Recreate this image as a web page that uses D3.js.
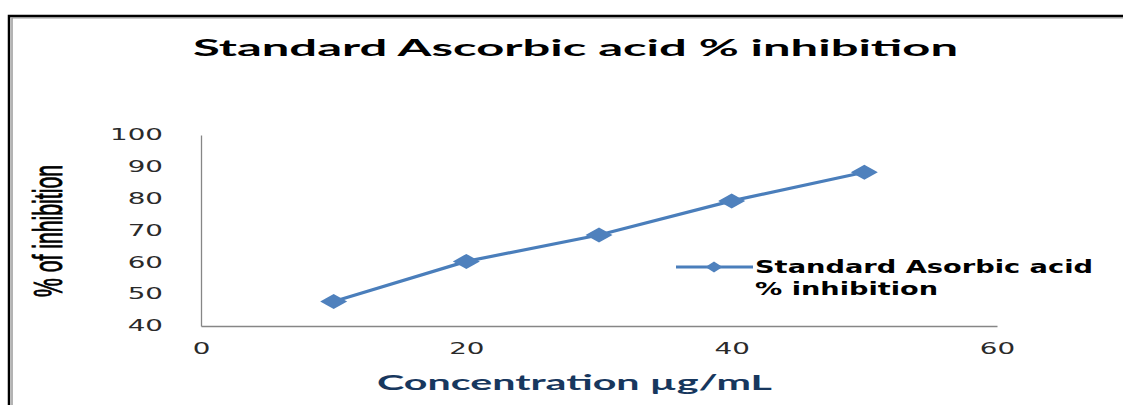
<!DOCTYPE html>
<html>
<head>
<meta charset="utf-8">
<script src="https://cdn.jsdelivr.net/npm/d3@7"></script>
<style>
  html, body { margin: 0; padding: 0; background: #fff; }
  svg { display: block; }
</style>
</head>
<body>
<script>
// Ascorbic acid standard: concentration (µg/mL) vs % inhibition
const concentrations = [10, 20, 30, 40, 50];
const inhibition = [47.7, 60.3, 68.6, 79.3, 88.3];
const xTicks = [0, 20, 40, 60];
const yTicks = [40, 50, 60, 70, 80, 90, 100];
const chartTitle = "Standard Ascorbic acid % inhibition";
const xTitle = "Concentration  µg/mL";
const yTitle = "% of inhibition";
const legendLines = ["Standard Asorbic acid", "% inhibition"];

const W = 1123, H = 405;
const plot = { left: 201, right: 997, top: 135, bottom: 326 };
const seriesColor = "#4A7EBB";
const markerColor = "#4F81BD";

const svg = d3.select("body").append("svg")
  .attr("width", W).attr("height", H);

// outer frame: black edge with a grey inner rule, open at right and bottom
svg.append("path")
  .attr("d", `M${W},16 H9 V${H}`)
  .attr("fill", "none").attr("stroke", "#000").attr("stroke-width", 2.5);
svg.append("path")
  .attr("d", `M${W},17.8 H12 V${H}`)
  .attr("fill", "none").attr("stroke", "#9a9a9a").attr("stroke-width", 1.5);

const x = d3.scaleLinear().domain([0, 60]).range([plot.left, plot.right]);
const y = d3.scaleLinear().domain([40, 100]).range([plot.bottom, plot.top]);

// widen text horizontally by factor k
function stretch(sel, k) {
  sel.each(function () {
    const w = this.getComputedTextLength();
    d3.select(this).attr("textLength", w * k).attr("lengthAdjust", "spacingAndGlyphs");
  });
}

const tickFont = "'DejaVu Sans', Verdana, sans-serif";

// y axis
const gy = svg.append("g")
  .attr("transform", `translate(${plot.left},0)`)
  .call(d3.axisLeft(y).tickValues(yTicks).tickSize(0).tickPadding(38).tickFormat(d3.format("d")));
gy.select(".domain").attr("stroke", "#868686").attr("stroke-width", 1.3);
gy.selectAll("text")
  .attr("font-family", tickFont).attr("font-size", 15).attr("fill", "#2a2a2a");
stretch(gy.selectAll("text"), 1.85);

// x axis
const gx = svg.append("g")
  .attr("transform", `translate(0,${plot.bottom})`)
  .call(d3.axisBottom(x).tickValues(xTicks).tickSize(0).tickPadding(17).tickFormat(d3.format("d")));
gx.select(".domain").attr("stroke", "#868686").attr("stroke-width", 1.3);
gx.selectAll("text")
  .attr("font-family", tickFont).attr("font-size", 15).attr("fill", "#2a2a2a");
stretch(gx.selectAll("text"), 1.85);

// wide diamond marker
function diamond(w, h) {
  return { draw(ctx) {
    ctx.moveTo(-w / 2, 0); ctx.lineTo(0, -h / 2); ctx.lineTo(w / 2, 0); ctx.lineTo(0, h / 2); ctx.closePath();
  } };
}

const points = concentrations.map((c, i) => [c, inhibition[i]]);

svg.append("path")
  .datum(points)
  .attr("fill", "none")
  .attr("stroke", seriesColor)
  .attr("stroke-width", 3.2)
  .attr("stroke-linejoin", "round")
  .attr("d", d3.line().x(d => x(d[0])).y(d => y(d[1])));

svg.append("g").selectAll("path")
  .data(points)
  .join("path")
  .attr("transform", d => `translate(${x(d[0])},${y(d[1])})`)
  .attr("d", d3.symbol().type(diamond(27, 15))())
  .attr("fill", markerColor);

// chart title
svg.append("text")
  .attr("x", 193).attr("y", 56)
  .attr("font-family", "Lato, 'Open Sans', sans-serif")
  .attr("font-weight", 700).attr("font-size", 22).attr("fill", "#000")
  .attr("textLength", 765).attr("lengthAdjust", "spacingAndGlyphs")
  .text(chartTitle);

// x axis title
svg.append("text")
  .attr("x", 377).attr("y", 390)
  .attr("font-family", "Lato, 'Open Sans', sans-serif")
  .attr("font-weight", 700).attr("font-size", 20).attr("fill", "#17375E")
  .attr("textLength", 395).attr("lengthAdjust", "spacingAndGlyphs")
  .text(xTitle);

// y axis title
svg.append("text")
  .attr("transform", "translate(62,231) rotate(-90)")
  .attr("text-anchor", "middle")
  .attr("font-family", "'Liberation Sans Narrow', 'Arial Narrow', 'Liberation Sans', sans-serif")
  .attr("font-size", 40).attr("fill", "#000")
  .attr("stroke", "#000").attr("stroke-width", 0.9)
  .attr("textLength", 132).attr("lengthAdjust", "spacingAndGlyphs")
  .text(yTitle);

// legend
const leg = svg.append("g").attr("transform", "translate(676,267)");
leg.append("line")
  .attr("x1", 0).attr("x2", 77).attr("y1", 0).attr("y2", 0)
  .attr("stroke", seriesColor).attr("stroke-width", 3);
leg.append("path")
  .attr("transform", "translate(38,0)")
  .attr("d", d3.symbol().type(diamond(17, 11))())
  .attr("fill", markerColor);
const legWidths = [338, 183];
leg.selectAll("text.item")
  .data(legendLines)
  .join("text")
  .attr("class", "item")
  .attr("x", 79)
  .attr("y", (d, i) => 6 + i * 21.5)
  .attr("font-family", "'DejaVu Sans', Verdana, sans-serif")
  .attr("font-weight", 700).attr("font-size", 17).attr("fill", "#000")
  .attr("textLength", (d, i) => legWidths[i]).attr("lengthAdjust", "spacingAndGlyphs")
  .text(d => d);
</script>
</body>
</html>
